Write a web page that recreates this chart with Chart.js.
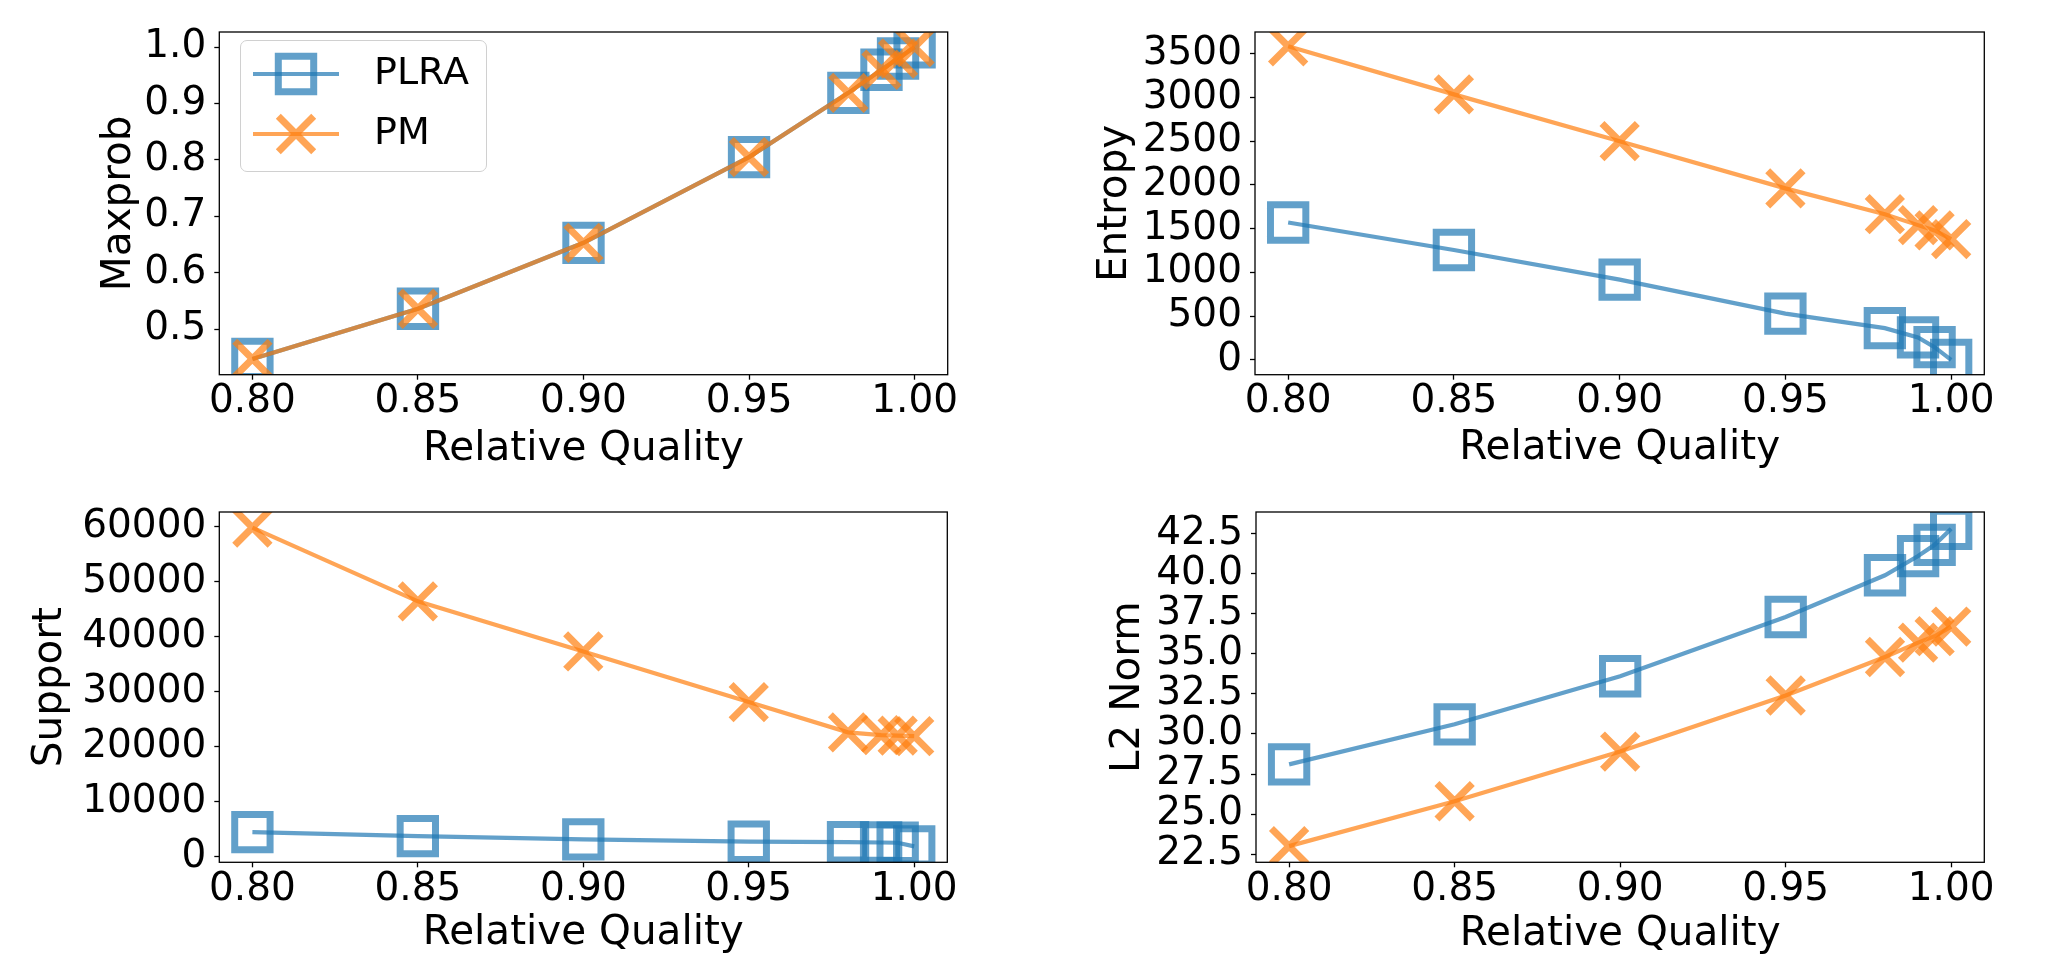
<!DOCTYPE html>
<html>
<head>
<meta charset="utf-8">
<script src="https://cdn.jsdelivr.net/npm/chart.js@4/dist/chart.umd.min.js"></script>
<style>
  body { margin: 0; background: #fff; width: 2053px; height: 959px; position: relative; overflow: hidden; }
  canvas { position: absolute; }
  #legend { position: absolute; left: 240px; top: 40px; width: 247px; height: 132px; box-sizing: border-box;
            border: 1.3px solid #d0d0d0; border-radius: 7px; background: rgba(255,255,255,0.8); z-index: 2; }
  .row { position: absolute; left: 0; height: 50px; width: 100%; }
  .row canvas { left: 12px; top: 0; }
  .row span { position: absolute; left: 133px; top: 0; line-height: 50px; font: 38px 'DejaVu Sans', sans-serif; color: #000; }
</style>
</head>
<body>
<canvas id="c1" width="1026" height="480" style="left:0;top:0"></canvas>
<canvas id="c2" width="1027" height="480" style="left:1026px;top:0"></canvas>
<canvas id="c3" width="1026" height="479" style="left:0;top:480px"></canvas>
<canvas id="c4" width="1027" height="479" style="left:1026px;top:480px"></canvas>
<div id="legend"></div>
<script>
// data
const quality = [0.80, 0.85, 0.90, 0.95, 0.98, 0.99, 0.995, 1.00];
const xTicks = [0.80, 0.85, 0.90, 0.95, 1.00];
const seriesNames = ['PLRA', 'PM'];

const maxprobPLRA = [0.447, 0.536, 0.653, 0.805, 0.919, 0.960, 0.980, 1.000];
const maxprobPM   = [0.447, 0.536, 0.653, 0.805, 0.919, 0.960, 0.980, 1.000];
const maxprobTicks = [0.5, 0.6, 0.7, 0.8, 0.9, 1.0];

const entropyPLRA = [1570, 1256, 917, 528, 362, 256, 145, 0];
const entropyPM   = [3585, 3035, 2500, 1960, 1665, 1540, 1480, 1380];
const entropyTicks = [0, 500, 1000, 1500, 2000, 2500, 3000, 3500];

const supportPLRA = [4470, 3760, 3160, 2740, 2650, 2600, 2550, 1900];
const supportPM   = [59800, 46400, 37300, 28100, 22600, 22100, 22000, 21900];
const supportTicks = [0, 10000, 20000, 30000, 40000, 50000, 60000];

const l2PLRA = [28.1, 30.6, 33.6, 37.3, 39.9, 41.1, 41.8, 42.8];
const l2PM   = [23.0, 25.8, 28.9, 32.4, 34.8, 35.7, 36.1, 36.7];
const l2Ticks = [22.5, 25.0, 27.5, 30.0, 32.5, 35.0, 37.5, 40.0, 42.5];

const BLUE = 'rgba(31,119,180,0.7)';
const ORANGE = 'rgba(255,127,14,0.7)';
const FONT = 'DejaVu Sans';

const frame = {
  id: 'frame',
  afterDraw(chart) {
    const { ctx, chartArea: a } = chart;
    ctx.save();
    ctx.strokeStyle = '#000';
    ctx.lineWidth = 1.3;
    ctx.strokeRect(a.left, a.top, a.right - a.left, a.bottom - a.top);
    ctx.restore();
  }
};

// canvas size, wanted plot box (relative to canvas), title spots
const panels = [
  { id: 'c1', w: 1026, h: 480, area: [219.3, 19.3, 947.7, 374.7], yTitleX: 119, xTitleY: 449.8,
    yLabel: 'Maxprob', yMin: 0.419, yMax: 1.027, ticks: maxprobTicks, fmt: v => v.toFixed(1), a: maxprobPLRA, b: maxprobPM },
  { id: 'c2', w: 1027, h: 480, area: [229, 20, 958.3, 374.7], yTitleX: 89, xTitleY: 448,
    yLabel: 'Entropy', yMin: -170, yMax: 3748, ticks: entropyTicks, fmt: v => String(v), a: entropyPLRA, b: entropyPM },
  { id: 'c3', w: 1026, h: 479, area: [219.3, 26, 947.3, 382.3], yTitleX: 50, xTitleY: 453.2,
    yLabel: 'Support', yMin: -1000, yMax: 62625, ticks: supportTicks, fmt: v => String(v), a: supportPLRA, b: supportPM },
  { id: 'c4', w: 1027, h: 479, area: [230, 26, 958.3, 382.3], yTitleX: 102, xTitleY: 454.8,
    yLabel: 'L2 Norm', yMin: 21.99, yMax: 43.85, ticks: l2Ticks, fmt: v => v.toFixed(1), a: l2PLRA, b: l2PM }
];

function series(ys) { return quality.map((x, i) => ({ x: x, y: ys[i] })); }

function dataset(label, ys, color, style, order) {
  return {
    label: label, data: series(ys), order: order,
    borderColor: color, borderWidth: 4.2, tension: 0, clip: 0,
    pointStyle: style, pointRadius: 25, pointHoverRadius: 25,
    pointBorderColor: color, pointBackgroundColor: 'rgba(0,0,0,0)', pointBorderWidth: 7
  };
}

panels.forEach(p => {
  const [l, t, r, b] = p.area;
  new Chart(document.getElementById(p.id), {
    type: 'line',
    data: {
      datasets: [
        dataset(seriesNames[0], p.a, BLUE, 'rect', 1),
        dataset(seriesNames[1], p.b, ORANGE, 'crossRot', 0)
      ]
    },
    options: {
      responsive: false, animation: false, devicePixelRatio: 1,
      layout: { padding: { left: 0, top: t, right: p.w - r, bottom: 0 } },
      plugins: { legend: { display: false }, tooltip: { enabled: false } },
      scales: {
        x: {
          type: 'linear', min: 0.79, max: 1.01,
          afterBuildTicks: s => { s.ticks = xTicks.map(v => ({ value: v })); },
          afterFit: s => { s.height = p.h - b; },
          grid: { drawOnChartArea: false, drawTicks: true, tickLength: 5, tickColor: '#000', tickWidth: 1.3 },
          border: { display: false },
          ticks: { color: '#000', padding: 3, maxRotation: 0, autoSkip: false,
                   font: { family: FONT, size: 39, lineHeight: 1 }, callback: v => v.toFixed(2) },
          title: { display: true, text: 'Relative Quality', color: '#000',
                   font: { family: FONT, size: 40.5, lineHeight: 1.2 },
                   padding: { top: 0, bottom: p.h - p.xTitleY - 24.3 } }
        },
        y: {
          min: p.yMin, max: p.yMax,
          afterBuildTicks: s => { s.ticks = p.ticks.map(v => ({ value: v })); },
          afterFit: s => { s.width = l; },
          grid: { drawOnChartArea: false, drawTicks: true, tickLength: 5, tickColor: '#000', tickWidth: 1.3 },
          border: { display: false },
          ticks: { color: '#000', padding: 8, autoSkip: false,
                   font: { family: FONT, size: 39, lineHeight: 1 }, callback: v => p.fmt(v) },
          title: { display: true, text: p.yLabel, color: '#000',
                   font: { family: FONT, size: 40.5, lineHeight: 1.2 },
                   padding: { top: p.yTitleX - 24.3, bottom: 0 } }
        }
      }
    },
    plugins: [frame]
  });
});

// legend in the first panel: line + marker, then the series name
const legend = document.getElementById('legend');
[[BLUE, 'rect', 32.7], [ORANGE, 'crossRot', 93.3]].forEach(([color, style, cy], i) => {
  const row = document.createElement('div');
  row.className = 'row';
  row.style.top = (cy - 25) + 'px';
  const c = document.createElement('canvas');
  c.width = 88; c.height = 50;
  const g = c.getContext('2d');
  g.strokeStyle = color;
  g.lineWidth = 4.2;
  g.beginPath(); g.moveTo(0, 25); g.lineTo(86, 25); g.stroke();
  g.lineWidth = 7;
  g.beginPath();
  if (style === 'rect') {
    g.rect(43 - 17.7, 25 - 17.7, 35.4, 35.4);
  } else {
    g.moveTo(43 - 17.7, 25 - 17.7); g.lineTo(43 + 17.7, 25 + 17.7);
    g.moveTo(43 + 17.7, 25 - 17.7); g.lineTo(43 - 17.7, 25 + 17.7);
  }
  g.stroke();
  const s = document.createElement('span');
  s.textContent = seriesNames[i];
  row.appendChild(c);
  row.appendChild(s);
  legend.appendChild(row);
});
</script>
</body>
</html>
